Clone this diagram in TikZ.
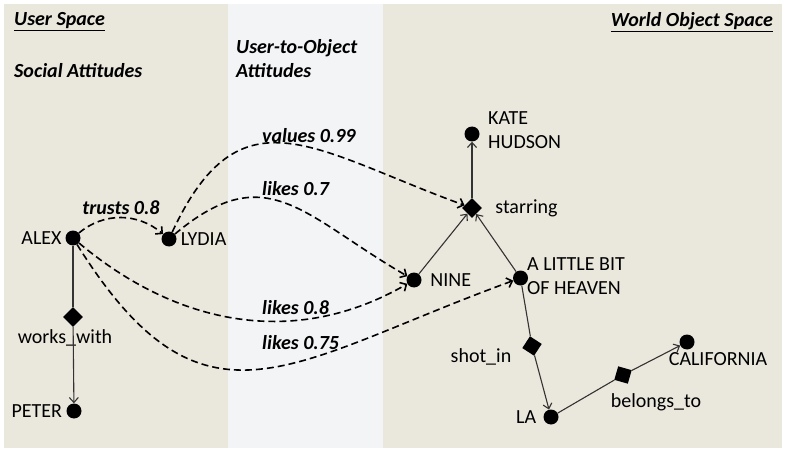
\documentclass[tikz,border=0pt]{standalone}
\usepackage{fontspec}
\setmainfont{Carlito}
\usetikzlibrary{positioning,shapes.geometric,arrows.meta}
\definecolor{spacebg}{HTML}{EAE7DC}
\definecolor{bridgebg}{HTML}{F3F4F6}
\newcommand\diagfont{\fontsize{20}{24}\selectfont}
\tikzset{
	entity/.style={circle, fill=black, minimum size=15pt, inner sep=0pt},
	relation/.style={diamond, fill=black, minimum size=20pt, inner sep=0pt},
	enttext/.style={inner sep=1pt, font=\diagfont},
	relline/.style={draw=black!80, line width=1.1pt},
	relarrow/.style={relline, -{Straight Barb[length=5pt, width=9pt]}},
	attitude/.style={-{Straight Barb[length=5pt, width=10pt]}, dash pattern=on 7pt off 4pt, line width=1.6pt},
	attlabel/.style={inner sep=1pt, font=\diagfont\bfseries\itshape},
	heading/.style={inner sep=1pt, font=\diagfont\bfseries\itshape, align=left}
}

\begin{document}
\begin{tikzpicture}[x=1pt, y=1pt, font=\diagfont]
		% Panels
		\useasboundingbox (0,0) rectangle (785,448);
		\fill[spacebg] (4,0) rectangle (782,444);
		\fill[bridgebg] (228,0) rectangle (383,444);

		% Headings
		\node[heading, anchor=west] (userspace) at (13,426) {\underline{User Space}};
		\node[heading, anchor=west] (social) at (13,377) {Social Attitudes};
		\node[heading, anchor=west] (userobj) at (235,389) {User-to-Object\\Attitudes};
		\node[heading, anchor=east] (worldspace) at (774,426) {\underline{World Object Space}};

		% Users
		\node[entity] (alex) at (73,210) {};
		\node[enttext, left=2.5pt of alex] (alextxt) {ALEX};

		\node[entity] (lydia) at (169,209) {};
		\node[enttext, right=3pt of lydia] (lydiatxt) {LYDIA};

		\node[entity] (peter) at (74,37) {};
		\node[enttext, left=3pt of peter] (petertxt) {PETER};

		\node[relation] (works) at (73,131) {};
		\node[enttext] (workstxt) at (65,110) {works\_with};

		% Objects
		\node[entity] (kate) at (472,314) {};
		\node[enttext, anchor=west, align=left] (katetxt) at (487,318) {KATE\\HUDSON};

		\node[relation] (starring) at (472,240) {};
		\node[enttext, right=12pt of starring] (starringtxt) {starring};

		\node[entity] (nine) at (414,168) {};
		\node[enttext, right=7.5pt of nine] (ninetxt) {NINE};

		\node[entity] (heaven) at (520.5,170) {};
		\node[enttext, anchor=west, align=left] (heaventxt) at (526,172) {A LITTLE BIT\\OF HEAVEN};

		\node[relation, rotate=-78] (shotin) at (532,102) {};
		\node[enttext] (shotintxt) at (481,91) {shot\_in};

		\node[entity] (la) at (551,31) {};
		\node[enttext, left=6pt of la] (latxt) {LA};

		\node[relation, rotate=29] (belongs) at (623,73) {};
		\node[enttext] (belongstxt) at (656,46) {belongs\_to};

		\node[entity] (cal) at (687,106) {};
		\node[enttext] (caltxt) at (718,89) {CALIFORNIA};

		% Relations
		\draw[relline] (alex) -- (works);
		\draw[relarrow] (works) -- (peter);
		\draw[relarrow] (nine) -- (starring);
		\draw[relarrow] (heaven) -- (starring);
		\draw[relarrow] (starring) -- (kate);
		\draw[relline] (heaven) -- (shotin);
		\draw[relarrow] (shotin) -- (la);
		\draw[relline] (la) -- (belongs);
		\draw[relarrow] (belongs) -- (cal);

		% Attitudes
		\draw[attitude] (alex) to[out=40, in=140] (lydia);
		\node[attlabel] (trusts) at (121,240) {trusts 0.8};

		\draw[attitude] (lydia) to[out=65, in=160, looseness=1.4] (starring);
		\node[attlabel, anchor=west] (values) at (261,312) {values 0.99};

		\draw[attitude] (lydia) to[out=40, in=150, looseness=1.3] (nine);
		\node[attlabel, anchor=west] (likesa) at (261,259) {likes 0.7};

		\draw[attitude] (alex) to[out=-40, in=210] (nine);
		\node[attlabel, anchor=west] (likesb) at (261,140) {likes 0.8};

		\draw[attitude] (alex) to[out=-58, in=200, looseness=1.4] (heaven);
		\node[attlabel, anchor=west] (likesc) at (261,105) {likes 0.75};
	\end{tikzpicture}
\end{document}
